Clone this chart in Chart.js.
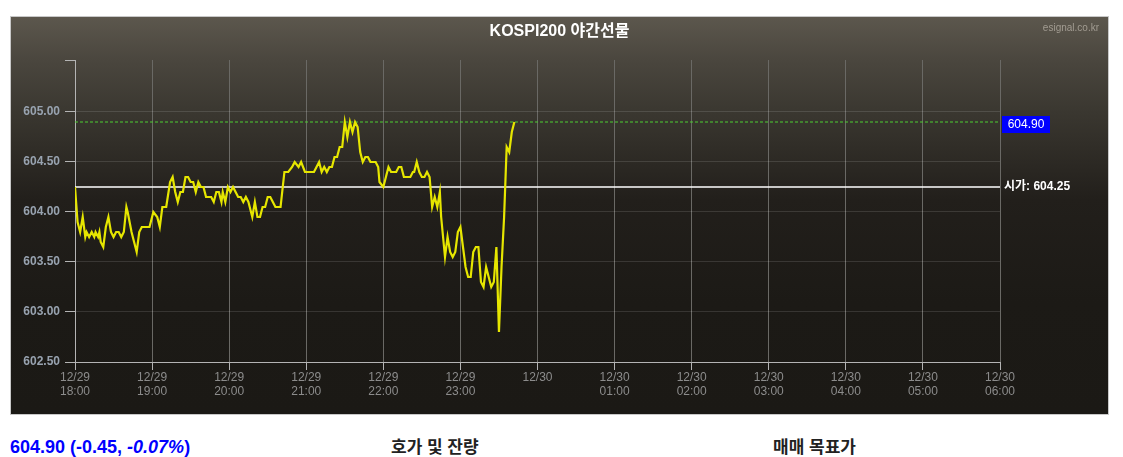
<!DOCTYPE html>
<html><head><meta charset="utf-8">
<script src="https://cdn.jsdelivr.net/npm/chart.js@4"></script>
<style>
html,body{margin:0;padding:0;background:#fff;width:1123px;height:457px;overflow:hidden;font-family:"Liberation Sans","Noto Sans CJK KR",sans-serif;}
#box{position:absolute;left:10px;top:16px;width:1097px;height:397px;border:1px solid #c8c8c8;
 background:linear-gradient(to bottom,#5c574d 0%,#4a463e 11%,#3a3730 24%,#221f1b 46%,#1c1a16 72%,#1b1915 100%);}
canvas{display:block;}
.info{position:absolute;top:438px;font-size:17px;font-weight:bold;line-height:20px;white-space:nowrap;}
</style></head><body>
<div id="box"><canvas id="c" width="1097" height="397"></canvas></div>
<div class="info" id="quote" style="left:10px;color:#0000ff;font-size:18px;top:437px"></div>
<div class="info" style="left:391px;color:#222">호가 및 잔량</div>
<div class="info" style="left:773px;color:#222">매매 목표가</div>
<script>
const titleText = 'KOSPI200 야간선물';
const sourceText = 'esignal.co.kr';
const openPrice = 604.25;
const lastPrice = 604.90;
const change = -0.45;
const changePct = -0.07;

// minutes after 12/29 18:00
const minutes = [
 0,2,4,6,8,9,11,13,15,16,
 18,19,20,22,24,26,28,30,32,34,
 36,38,40,41,44,46,48,50,52,56,
 58,61,64,66,68,71,74,76,78,80,
 82,84,86,88,90,92,94,96,98,100,
 102,104,106,108,110,112,114,115,117,119,
 121,123,125,127,129,131,133,135,136,138,
 140,142,144,146,148,150,152,154,156,160,
 163,166,169,171,174,176,179,183,186,188,
 190,192,194,196,198,200,202,204,206,208,
 210,212,214,216,218,220,222,224,226,228,
 230,234,236,237,240,242,244,246,250,252,
 254,256,259,261,263,264,266,268,270,272,
 274,276,278,280,282,284,285,288,290,292,
 294,296,298,300,302,304,306,308,310,312,
 314,316,318,320,322,324,326,328,330,332,
 334,336,338,340,342];
const prices = [
 604.25,603.90,603.80,603.95,603.75,603.80,603.75,603.80,603.75,603.80,
 603.75,603.80,603.70,603.65,603.85,603.95,603.80,603.75,603.80,603.80,
 603.75,603.80,604.05,604.00,603.80,603.70,603.60,603.80,603.85,603.85,
 603.85,604.00,603.95,603.85,604.05,604.05,604.30,604.35,604.20,604.10,
 604.20,604.20,604.35,604.35,604.30,604.30,604.20,604.30,604.25,604.25,
 604.15,604.15,604.15,604.10,604.20,604.20,604.10,604.20,604.10,604.25,
 604.20,604.25,604.20,604.15,604.15,604.10,604.15,604.10,604.05,603.95,
 604.10,603.95,603.95,604.05,604.05,604.15,604.15,604.10,604.05,604.05,
 604.40,604.40,604.45,604.50,604.45,604.50,604.40,604.40,604.40,604.45,
 604.50,604.40,604.45,604.40,604.45,604.45,604.55,604.55,604.65,604.65,
 604.90,604.75,604.90,604.80,604.90,604.85,604.60,604.50,604.55,604.55,
 604.50,604.50,604.45,604.30,604.25,604.35,604.45,604.40,604.40,604.45,
 604.45,604.35,604.35,604.35,604.40,604.40,604.50,604.40,604.35,604.35,
 604.40,604.35,604.05,604.15,604.05,604.20,603.95,603.55,603.75,603.60,
 603.55,603.60,603.80,603.85,603.65,603.45,603.35,603.35,603.60,603.65,
 603.65,603.30,603.25,603.45,603.35,603.25,603.30,603.65,602.80,603.45,
 603.95,604.65,604.60,604.80,604.90];

const tickMinutes = [0,60,120,180,240,300,360,420,480,540,600,660,720];
const xTickLabels = [
 ['12/29','18:00'],['12/29','19:00'],['12/29','20:00'],['12/29','21:00'],
 ['12/29','22:00'],['12/29','23:00'],['12/30'],['12/30','01:00'],
 ['12/30','02:00'],['12/30','03:00'],['12/30','04:00'],['12/30','05:00'],['12/30','06:00']];
const yTickValues = [602.5,603.0,603.5,604.0,604.5,605.0];
const yMin = 602.5, yMax = 605.52;

document.getElementById('quote').innerHTML =
  lastPrice.toFixed(2) + ' (' + change.toFixed(2) + ', <i>' + changePct.toFixed(2) + '%</i>)';

const FONT = '"Liberation Sans","Noto Sans CJK KR",sans-serif';
Chart.defaults.font.family = FONT;

const overlay = {
  id: 'overlay',
  afterDraw(chart){
    const {ctx, chartArea:a, scales:{y}} = chart;
    ctx.save();
    ctx.textBaseline = 'middle';
    ctx.fillStyle = '#ffffff';
    ctx.font = 'bold 16px ' + FONT;
    ctx.textAlign = 'center';
    ctx.fillText(titleText, chart.width/2, 15);
    ctx.font = '10px ' + FONT;
    ctx.fillStyle = '#a29c92';
    ctx.textAlign = 'right';
    ctx.fillText(sourceText, chart.width - 9, 11);
    const py = y.getPixelForValue(lastPrice);
    ctx.fillStyle = '#0000ff';
    ctx.fillRect(a.right + 2, py - 6, 48, 17);
    ctx.fillStyle = '#ffffff';
    ctx.font = '12px ' + FONT;
    ctx.textAlign = 'center';
    ctx.fillText(lastPrice.toFixed(2), a.right + 26, py + 3);
    const oy = y.getPixelForValue(openPrice);
    ctx.font = 'bold 12px ' + FONT;
    ctx.textAlign = 'left';
    ctx.fillText('시가: ' + openPrice.toFixed(2), a.right + 4, oy);
    ctx.restore();
  }
};

new Chart(document.getElementById('c'), {
  type: 'line',
  data: {
    datasets: [
      { data: minutes.map((m,i)=>({x:m, y:prices[i]})), borderColor:'#e6e600', borderWidth:2.2, pointRadius:0, tension:0 },
      { data: [{x:0,y:openPrice},{x:720,y:openPrice}], borderColor:'#ffffff', borderWidth:1.5, pointRadius:0 },
      { data: [{x:0,y:lastPrice},{x:720,y:lastPrice}], borderColor:'#4ccc33', borderWidth:1, borderDash:[3,2], pointRadius:0 }
    ]
  },
  options: {
    responsive:false, animation:false, devicePixelRatio:1,
    layout:{ padding:{ left:0, right:108, top:43, bottom:0 } },
    plugins:{ legend:{display:false}, tooltip:{enabled:false}, title:{display:false} },
    scales:{
      x:{
        type:'linear', min:0, max:720,
        afterFit(s){ s.height = 52; },
        afterBuildTicks(s){ s.ticks = tickMinutes.map(v=>({value:v})); },
        ticks:{ callback:(v,i)=>xTickLabels[i], color:'#8c8c8c', font:{size:12}, padding:0, maxRotation:0, autoSkip:false },
        grid:{ color:'#6a6965', tickColor:'#b4b4b4', tickLength:8 },
        border:{ color:'#b4b4b4', width:1 }
      },
      y:{
        min:yMin, max:yMax,
        afterFit(s){ s.width = 64; },
        afterBuildTicks(s){ s.ticks = yTickValues.concat([yMax]).map(v=>({value:v})); },
        ticks:{ callback:(v)=> yTickValues.includes(v) ? v.toFixed(2) : '', color:'#98a3b0', font:{size:12, weight:'bold'}, padding:5 },
        grid:{ color:(c)=> (c.tick && c.tick.value===yMax) ? 'rgba(0,0,0,0)' : 'rgba(255,255,255,0.12)', tickColor:'#b4b4b4', tickLength:10 },
        border:{ color:'#b4b4b4', width:1 }
      }
    }
  },
  plugins:[overlay]
});
</script>
</body></html>
